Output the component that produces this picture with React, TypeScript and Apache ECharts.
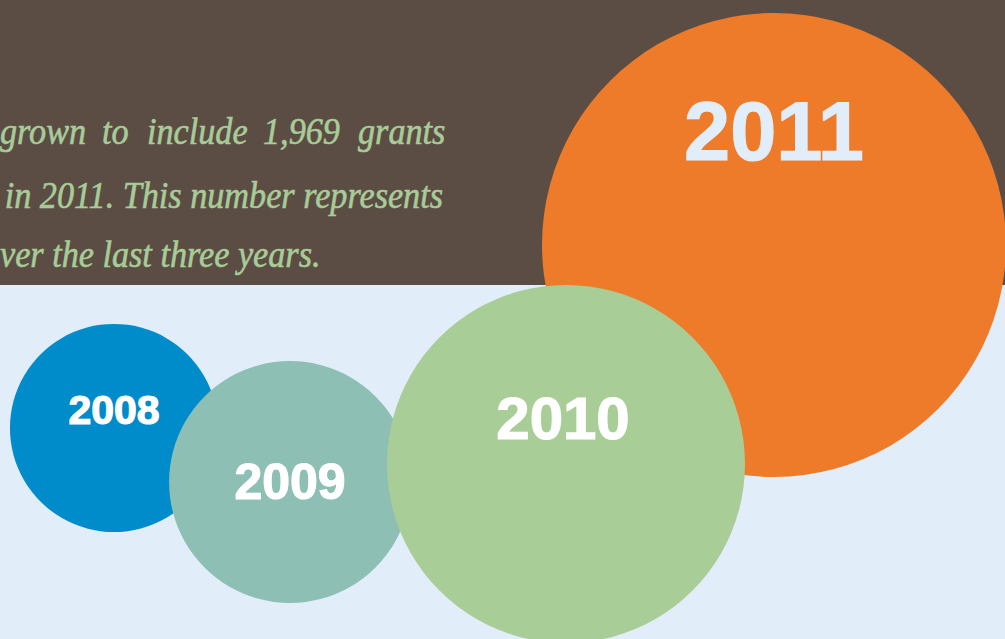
import React, { useEffect, useRef } from "react";
import * as echarts from "echarts";

// Data
const years = ["2008", "2009", "2010", "2011"];
const grants = [396, 535, 1172, 1969]; // bubble area proportional to grants
const centerX = [114, 290, 566, 774];
const centerY = [428, 482, 464, 245];
const bubbleColors = ["#008bcb", "#8dbfb4", "#a8cd96", "#ee7b29"];
const labelColors = ["#ffffff", "#ffffff", "#ffffff", "#e1edf8"];
const labelSizes = [41, 50, 60, 83];
const labelOffsetY = [-18, 0, -46, -114];
const labelOffsetX = [0, 0, -3, 0];
const drawOrder = [2, 3, 4, 1];

const line1Words = ["grown", "to", "include", "1,969", "grants"];
const line1Starts = [0, 102, 147, 263, 358];
const line2 = "in 2011. This number represents";
const line3 = "ver the last three years.";

const W = 1005;
const H = 639;
const MAX_DIAMETER = 464;

export default function App() {
  const ref = useRef<HTMLDivElement>(null);
  useEffect(() => {
    document.body.style.margin = "0";
    const chart = echarts.init(ref.current!, undefined, { renderer: "svg" });
    const maxG = Math.max(...grants);
    const textStyleBase = {
      fill: "#a8cc98",
      stroke: "#a8cc98",
      lineWidth: 0.6,
      font: "italic 38px 'Liberation Serif', 'DejaVu Serif', serif",
    };
    const series = years.map((y, i) => ({
      type: "scatter",
      name: y,
      z: drawOrder[i],
      symbol: "circle",
      symbolSize: MAX_DIAMETER * Math.sqrt(grants[i] / maxG),
      itemStyle: { color: bubbleColors[i], opacity: 1 },
      emphasis: { disabled: true },
      label: {
        show: true,
        position: "inside",
        offset: [labelOffsetX[i], labelOffsetY[i]],
        formatter: y,
        color: labelColors[i],
        textBorderColor: labelColors[i],
        textBorderWidth: 1.2,
        fontSize: labelSizes[i],
        fontWeight: "bold",
        fontFamily: "'Liberation Sans', Arial, sans-serif",
      },
      data: [[centerX[i], centerY[i], grants[i]]],
    }));
    chart.setOption({
      animation: false,
      backgroundColor: "#e1edf8",
      grid: { left: 0, right: 0, top: 0, bottom: 0 },
      xAxis: { type: "value", min: 0, max: W, show: false },
      yAxis: { type: "value", min: 0, max: H, inverse: true, show: false },
      graphic: [
        {
          type: "rect",
          z: 0,
          shape: { x: 0, y: 0, width: W, height: 285 },
          style: { fill: "#5c4d44" },
        },
        ...line1Words.map((w, i) => ({
          type: "text",
          z: 1,
          x: line1Starts[i],
          y: 112,
          scaleX: 0.9,
          style: { ...textStyleBase, text: w, textAlign: "left", textVerticalAlign: "top" },
        })),
        {
          type: "text",
          z: 1,
          x: 443,
          y: 176,
          scaleX: 0.9,
          style: { ...textStyleBase, text: line2, textAlign: "right", textVerticalAlign: "top" },
        },
        {
          type: "text",
          z: 1,
          x: 0,
          y: 235,
          scaleX: 0.9,
          style: { ...textStyleBase, text: line3, textAlign: "left", textVerticalAlign: "top" },
        },
      ],
      series,
    });
    return () => chart.dispose();
  }, []);
  return <div ref={ref} style={{ width: W, height: H }} />;
}
